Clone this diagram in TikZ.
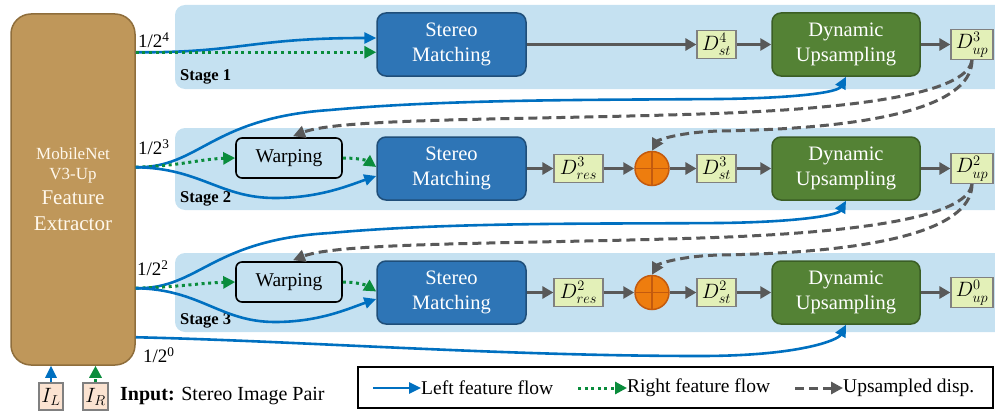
\documentclass[tikz,border=0pt]{standalone}
\usepackage{fontspec}
\setmainfont{Liberation Serif}
\usetikzlibrary{arrows.meta,calc}
\definecolor{bandblue}{HTML}{C5E1F1}
\definecolor{smblue}{HTML}{2E75B6}
\definecolor{smborder}{HTML}{1F4E79}
\definecolor{dugreen}{HTML}{548235}
\definecolor{duborder}{HTML}{3B5E25}
\definecolor{dfill}{HTML}{E3F0B8}
\definecolor{dborder}{HTML}{808080}
\definecolor{plusfill}{HTML}{EE7D0E}
\definecolor{plusborder}{HTML}{C35A0E}
\definecolor{arrgray}{HTML}{595959}
\definecolor{flowblue}{HTML}{0070C0}
\definecolor{flowgreen}{HTML}{0A8C3C}
\definecolor{febrown}{HTML}{BF975A}
\definecolor{feborder}{HTML}{8F6E3C}
\definecolor{fetext}{HTML}{FFF8EC}
\definecolor{infill}{HTML}{FBE3D1}
\tikzset{
  band/.style={fill=bandblue, draw=none, rounded corners=10pt, inner sep=0pt},
  stagelbl/.style={font=\fontsize{16.5}{18}\selectfont\bfseries, inner sep=0pt},
  smbox/.style={fill=smblue, draw=smborder, line width=1.5pt, rounded corners=9pt,
    minimum width=149pt, minimum height=63pt, text=white, align=center,
    font=\fontsize{20.5}{25}\selectfont, inner sep=0pt},
  dubox/.style={smbox, fill=dugreen, draw=duborder, minimum width=148pt},
  dval/.style={fill=dfill, draw=dborder, line width=1.2pt, minimum height=28pt,
    inner sep=0pt, font=\fontsize{21}{22}\selectfont},
  warpbox/.style={fill=bandblue, draw=black, line width=1.6pt, rounded corners=6pt,
    minimum width=106pt, minimum height=40pt, font=\fontsize{19.5}{22}\selectfont, inner sep=0pt},
  plusnode/.style={circle, fill=plusfill, draw=plusborder, line width=1.5pt,
    minimum size=34pt, inner sep=0pt,
    path picture={\draw[plusborder, line width=1.8pt]
      (path picture bounding box.north) -- (path picture bounding box.south)
      (path picture bounding box.west) -- (path picture bounding box.east);}},
  garrow/.style={draw=arrgray, line width=3pt, -{Triangle[length=11pt,width=12pt]}},
  lflow/.style={draw=flowblue, line width=2.6pt, -{Triangle[length=12pt,width=11pt]}},
  rflow/.style={draw=flowgreen, line width=3pt, dash pattern=on 3pt off 3.6pt,
    -{Triangle[length=12pt,width=12pt]}},
  upd/.style={draw=arrgray, line width=3pt, dash pattern=on 9pt off 5pt,
    -{Triangle[length=12pt,width=12pt]}},
  fe/.style={fill=febrown, draw=feborder, line width=1.5pt, rounded corners=20pt,
    minimum width=124pt, minimum height=351pt, inner sep=0pt},
  fetxt/.style={text=fetext, align=center, inner sep=0pt},
  ratio/.style={font=\fontsize{19}{21}\selectfont, inner sep=0pt},
  inbox/.style={fill=infill, draw=dborder, line width=1.2pt, minimum width=24pt,
    minimum height=27pt, inner sep=0pt, font=\fontsize{22}{24}\selectfont},
  legtxt/.style={font=\fontsize{19.5}{22}\selectfont, inner sep=0pt},
}
\begin{document}
\begin{tikzpicture}[x=1pt,y=-1pt]
\useasboundingbox (0,0) rectangle (995,412);
% stage bands
\node[band, minimum width=830pt, minimum height=84pt] (band1) at (590,47) {};
\node[band, minimum width=830pt, minimum height=82pt] (band2) at (590,169) {};
\node[band, minimum width=830pt, minimum height=79pt] (band3) at (590,292.5) {};
\node[stagelbl, anchor=west] (st1) at (180,77) {Stage 1};
\node[stagelbl, anchor=west] (st2) at (180,199) {Stage 2};
\node[stagelbl, anchor=west] (st3) at (180,321) {Stage 3};
% feature extractor
\node[fe] (fe) at (73,189.5) {};
\node[fetxt, font=\fontsize{17}{20}\selectfont] (fet1) at (73,165) {MobileNet\\V3-Up};
\node[fetxt, font=\fontsize{21}{26}\selectfont] (fet2) at (73,211) {Feature\\Extractor};
\coordinate (s4) at ($(fe.north east)+(0,39)$);
\coordinate (s3) at ($(fe.north east)+(0,154)$);
\coordinate (s2) at ($(fe.north east)+(0,275)$);
\coordinate (s0) at ($(fe.north east)+(0,324)$);
\node[ratio, anchor=west] (r4) at (138,40) {1/2\textsuperscript{4}};
\node[ratio, anchor=west] (r3) at (138,147) {1/2\textsuperscript{3}};
\node[ratio, anchor=west] (r2) at (137,268) {1/2\textsuperscript{2}};
\node[ratio, anchor=west] (r0) at (143,355) {1/2\textsuperscript{0}};
% stage 1
\node[smbox] (sm1) at (451.5,44.5) {Stereo\\Matching};
\node[dval, minimum width=39pt] (dst4) at (716.5,44.5) {$D^{4}_{st}$};
\node[dubox] (du1) at (846,44.5) {Dynamic\\Upsampling};
\node[dval, minimum width=42pt, minimum height=30pt] (dup3) at (972,44.5) {$D^{3}_{up}$};
% stage 2
\node[warpbox] (warp2) at (289,158) {Warping};
\node[smbox] (sm2) at (451.5,168.5) {Stereo\\Matching};
\node[dval, minimum width=49pt] (dres3) at (578.5,168.5) {$D^{3}_{res}$};
\node[plusnode] (plus2) at (652,168.5) {};
\node[dval, minimum width=39pt] (dst3) at (716.5,168.5) {$D^{3}_{st}$};
\node[dubox] (du2) at (846,168.5) {Dynamic\\Upsampling};
\node[dval, minimum width=42pt, minimum height=30pt] (dup2) at (972,168.5) {$D^{2}_{up}$};
% stage 3
\node[warpbox] (warp3) at (289,282) {Warping};
\node[smbox] (sm3) at (451.5,292.5) {Stereo\\Matching};
\node[dval, minimum width=49pt] (dres2) at (578.5,292.5) {$D^{2}_{res}$};
\node[plusnode] (plus3) at (652,292.5) {};
\node[dval, minimum width=39pt] (dst2) at (716.5,292.5) {$D^{2}_{st}$};
\node[dubox] (du3) at (846,292.5) {Dynamic\\Upsampling};
\node[dval, minimum width=42pt, minimum height=30pt] (dup0) at (972,292.5) {$D^{0}_{up}$};
% gray straight arrows
\draw[garrow] (sm1.east) -- (dst4.west);
\draw[garrow] (dst4.east) -- (du1.west);
\draw[garrow] (du1.east) -- (dup3.west);
\draw[garrow] (sm2.east) -- (dres3.west);
\draw[garrow] (dres3.east) -- (plus2.west);
\draw[garrow] (plus2.east) -- (dst3.west);
\draw[garrow] (dst3.east) -- (du2.west);
\draw[garrow] (du2.east) -- (dup2.west);
\draw[garrow] (sm3.east) -- (dres2.west);
\draw[garrow] (dres2.east) -- (plus3.west);
\draw[garrow] (plus3.east) -- (dst2.west);
\draw[garrow] (dst2.east) -- (du3.west);
\draw[garrow] (du3.east) -- (dup0.west);
% upsampled disparity (dashed)
\draw[upd] (dup3.south) .. controls (968,88) and (890,108) .. (700,114)
  .. controls (520,120) and (340,118) .. ($(warp2.north)+(4,-1)$);
\draw[upd] (dup3.south) .. controls (972,100) and (900,128) .. (720,131)
  .. controls (680,132) and (658,140) .. (plus2.north);
\draw[upd] (dup2.south) .. controls (968,212) and (890,232) .. (700,238)
  .. controls (520,244) and (340,242) .. ($(warp3.north)+(4,-1)$);
\draw[upd] (dup2.south) .. controls (972,224) and (900,252) .. (720,255)
  .. controls (680,256) and (658,264) .. (plus3.north);
% stage 1 flows
\draw[lflow] (s4) .. controls (240,53) and (250,38) .. ($(sm1.west)+(0,-6.5)$);
\draw[rflow] (s4) -- (s4 -| sm1.west);
% stage 2 flows
\draw[lflow] (s3) .. controls (200,168) and (210,118) .. (330,110)
  .. controls (450,99) and (600,100) .. (720,99)
  .. controls (800,98) and (838,92) .. (du1.south);
\draw[rflow] (s3) .. controls (180,166) and (200,159) .. (warp2.west);
\draw[lflow] (s3) .. controls (200,168) and (220,198) .. (275,198)
  .. controls (320,198) and (350,185) .. ($(sm2.west)+(0,7.5)$);
\draw[rflow] (warp2.east) .. controls (356,158) and (366,160) .. ($(sm2.west)+(0,-1.5)$);
% stage 3 flows
\draw[lflow] (s2) .. controls (200,289) and (210,240) .. (330,233)
  .. controls (450,222) and (600,224) .. (720,223)
  .. controls (800,222) and (838,215) .. (du2.south);
\draw[rflow] (s2) .. controls (180,287) and (200,283) .. (warp3.west);
\draw[lflow] (s2) .. controls (200,289) and (220,322) .. (275,322)
  .. controls (320,322) and (350,308) .. ($(sm3.west)+(0,6.5)$);
\draw[rflow] (warp3.east) .. controls (356,282) and (366,285) .. ($(sm3.west)+(0,-1)$);
% full resolution flow
\draw[lflow] (s0) .. controls (300,341) and (500,356) .. (700,356)
  .. controls (800,356) and (838,340) .. (du3.south);
% inputs
\node[inbox] (il) at (51,396.5) {$I_L$};
\node[inbox, minimum width=25pt] (ir) at (95.5,396.5) {$I_R$};
\draw[lflow] (il.north) -- (il.north |- fe.south);
\draw[rflow] (ir.north) -- (ir.north |- fe.south);
\node[anchor=west, inner sep=0pt, font=\fontsize{20}{22}\selectfont] (intxt) at (120,396)
  {\textbf{Input:} Stereo Image Pair};
% legend
\node[draw=black, line width=1.6pt, minimum width=635pt, minimum height=41pt, inner sep=0pt]
  (legend) at (675.5,387.5) {};
\coordinate (la1) at (373,388);
\coordinate (la2) at (421,388);
\coordinate (lb1) at (578,388);
\coordinate (lb2) at (627,388);
\coordinate (lc1) at (795,388);
\coordinate (lc2) at (843,388);
\draw[lflow] (la1) -- (la2);
\draw[rflow] (lb1) -- (lb2);
\draw[upd] (lc1) -- (lc2);
\node[legtxt, anchor=west] (lt1) at (la2) {Left feature flow};
\node[legtxt, anchor=west] (lt2) at (lb2) {Right feature flow};
\node[legtxt, anchor=west] (lt3) at (lc2) {Upsampled disp.};
\end{tikzpicture}
\end{document}
